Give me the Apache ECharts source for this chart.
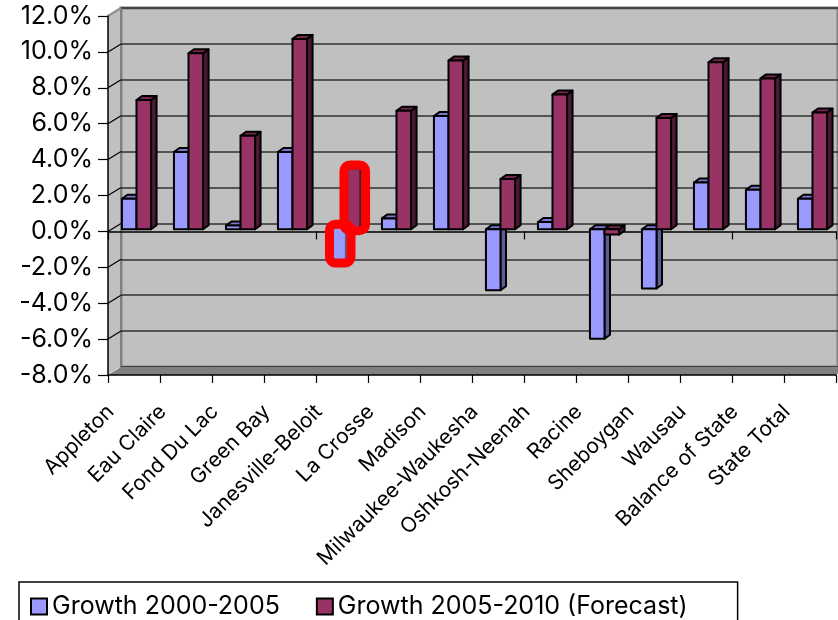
<!DOCTYPE html>
<html>
<head>
<meta charset="utf-8">
<script src="https://cdn.jsdelivr.net/npm/echarts@6/dist/echarts.min.js"></script>
<style>
  html, body { margin: 0; padding: 0; background: #ffffff; }
  #chart { width: 838px; height: 620px; }
</style>
</head>
<body>
<div id="chart"></div>
<script>
// Regional employment growth, Wisconsin
const categories = ['Appleton', 'Eau Claire', 'Fond Du Lac', 'Green Bay', 'Janesville-Beloit', 'La Crosse',
  'Madison', 'Milwaukee-Waukesha', 'Oshkosh-Neenah', 'Racine', 'Sheboygan', 'Wausau',
  'Balance of State', 'State Total'];
const growth2000to2005 = [1.7, 4.3, 0.2, 4.3, -1.8, 0.6, 6.3, -3.4, 0.4, -6.1, -3.3, 2.6, 2.2, 1.7];
const growth2005to2010 = [7.2, 9.8, 5.2, 10.6, 3.3, 6.6, 9.4, 2.8, 7.5, -0.3, 6.2, 9.3, 8.4, 6.5];
const seriesNames = ['Growth 2000-2005', 'Growth 2005-2010 (Forecast)'];
const highlightedCategories = ['Janesville-Beloit'];
const yMin = -8, yMax = 12, yStep = 2;

const FONT = 'Inter, "Liberation Sans", Arial, sans-serif';
const FRONT = { left: 108, top: 16, width: 728, height: 359 };
const WALL = { dx: 13, dy: -8 };        // offset of the back wall from the front plane
const BAR_SHIFT = { dx: 2.5, dy: -2.2 }; // bars sit slightly behind the front plane
const BAR_DEPTH = { dx: 5.5, dy: -4 };   // visible depth of each column

const palette = [
  { front: '#9999ff', top: '#7777cc', side: '#5c5c99' },
  { front: '#993366', top: '#73264d', side: '#4d1a33' }
];

function renderColumn(seriesIdx) {
  const colors = palette[seriesIdx];
  return function (params, api) {
    const i = api.value(0);
    const v = api.value(1);
    const base = api.coord([i, 0]);
    const tip = api.coord([i, v]);
    const band = api.size([1, 0])[0];
    const w = band * 0.28;
    const x1 = base[0] + (seriesIdx === 0 ? -w : 0) + BAR_SHIFT.dx;
    const x2 = x1 + w;
    const yTop = Math.min(base[1], tip[1]) + BAR_SHIFT.dy;
    const yBot = Math.max(base[1], tip[1]) + BAR_SHIFT.dy;
    const dx = BAR_DEPTH.dx, dy = BAR_DEPTH.dy;
    const marked = highlightedCategories.indexOf(categories[i]) >= 0;
    const stroke = marked ? null : '#000000';
    const lw = marked ? 0 : 2;
    const children = [
      { type: 'polygon', shape: { points: [[x2, yTop], [x2 + dx, yTop + dy], [x2 + dx, yBot + dy], [x2, yBot]] },
        style: { fill: colors.side, stroke: stroke, lineWidth: lw, lineJoin: 'round' } },
      { type: 'polygon', shape: { points: [[x1, yTop], [x2, yTop], [x2 + dx, yTop + dy], [x1 + dx, yTop + dy]] },
        style: { fill: colors.top, stroke: stroke, lineWidth: lw, lineJoin: 'round' } },
      { type: 'rect', shape: { x: x1, y: yTop, width: w, height: yBot - yTop },
        style: { fill: colors.front, stroke: stroke, lineWidth: lw, lineJoin: 'round' } }
    ];
    if (marked) {
      // red call-out ring around the column
      children.push({
        type: 'rect', z2: 100,
        shape: { x: x1 - 0.5, y: yTop + dy - 1, width: w + dx + 1.5, height: yBot - yTop - dy + 2.5, r: 6 },
        style: { fill: null, stroke: '#ff0000', lineWidth: 9 }
      });
    }
    return { type: 'group', children: children };
  };
}

const tickValues = [];
for (let v = yMin; v <= yMax; v += yStep) tickValues.push(v);

const chart = echarts.init(document.getElementById('chart'), null, { renderer: 'canvas' });

const option = {
  animation: false,
  backgroundColor: '#ffffff',
  textStyle: { fontFamily: FONT },
  grid: [
    { left: FRONT.left, top: FRONT.top, width: FRONT.width, height: FRONT.height, containLabel: false },
    { left: FRONT.left + WALL.dx, top: FRONT.top + WALL.dy, width: FRONT.width, height: FRONT.height,
      show: true, backgroundColor: '#c0c0c0', borderColor: '#808080', borderWidth: 3, containLabel: false }
  ],
  xAxis: [
    { type: 'category', gridIndex: 0, data: categories, position: 'bottom', z: 2,
      axisLine: { onZero: false, lineStyle: { color: '#000000', width: 1.5 } },
      axisTick: { show: true, length: 8, lineStyle: { color: '#000000', width: 1.2 } },
      axisLabel: { interval: 0, rotate: 45, color: '#000000', fontFamily: FONT, fontSize: 21,
        margin: 10, padding: [0, 33, 0, 0] },
      splitLine: { show: false } },
    { type: 'category', gridIndex: 0, data: categories, position: 'bottom', z: 2,
      axisLine: { onZero: true, onZeroAxisIndex: 0, lineStyle: { color: '#000000', width: 1.5 } },
      axisTick: { show: true, length: 8, lineStyle: { color: '#000000', width: 1.2 } },
      axisLabel: { show: false },
      splitLine: { show: false } },
    { type: 'category', gridIndex: 1, data: categories, show: false }
  ],
  yAxis: [
    { type: 'value', gridIndex: 0, min: yMin, max: yMax, interval: yStep, z: 2,
      axisLine: { show: true, onZero: false, lineStyle: { color: '#000000', width: 1.5 } },
      axisTick: { show: true, length: 10, lineStyle: { color: '#000000', width: 1.2 } },
      axisLabel: { color: '#000000', fontFamily: FONT, fontSize: 25, margin: 15,
        formatter: function (v) { return v.toFixed(1) + '%'; } },
      splitLine: { show: false } },
    { type: 'value', gridIndex: 1, min: yMin, max: yMax, interval: yStep, z: 0,
      axisLine: { show: false }, axisTick: { show: false }, axisLabel: { show: false },
      splitLine: { show: true, lineStyle: { color: '#303030', width: 1.5 } } }
  ],
  legend: {
    data: seriesNames,
    left: 19, top: 582,
    orient: 'horizontal',
    borderColor: '#000000', borderWidth: 1.5, borderRadius: 0,
    padding: [12, 50, 24, 11],
    itemWidth: 16, itemHeight: 16, itemGap: 36,
    icon: 'rect',
    textStyle: { color: '#000000', fontFamily: FONT, fontSize: 25 }
  },
  series: [
    { name: seriesNames[0], type: 'custom', xAxisIndex: 0, yAxisIndex: 0, z: 3, clip: false,
      itemStyle: { color: palette[0].front, borderColor: '#000000', borderWidth: 2 },
      renderItem: renderColumn(0),
      encode: { x: 0, y: 1 },
      data: growth2000to2005.map(function (v, i) { return [i, v]; }) },
    { name: seriesNames[1], type: 'custom', xAxisIndex: 0, yAxisIndex: 0, z: 3, clip: false,
      itemStyle: { color: palette[1].front, borderColor: '#000000', borderWidth: 2 },
      renderItem: renderColumn(1),
      encode: { x: 0, y: 1 },
      data: growth2005to2010.map(function (v, i) { return [i, v]; }) }
  ]
};

chart.setOption(option);

// Side wall, floor and the slanted gridline stubs joining front ticks to the back wall
const L = FRONT.left, R = FRONT.left + FRONT.width;
const yOf = function (v) { return chart.convertToPixel({ yAxisIndex: 0 }, v); };
const yTopPx = yOf(yMax), yBotPx = yOf(yMin);
const graphics = [
  { type: 'polygon', z: 1, silent: true,
    shape: { points: [[L, yTopPx], [L + WALL.dx - 1.5, yTopPx + WALL.dy], [L + WALL.dx - 1.5, yBotPx + WALL.dy], [L, yBotPx]] },
    style: { fill: '#c0c0c0' } },
  { type: 'polygon', z: 1, silent: true,
    shape: { points: [[L, yBotPx], [R, yBotPx], [R + WALL.dx, yBotPx + WALL.dy], [L + WALL.dx, yBotPx + WALL.dy]] },
    style: { fill: '#808080' } }
];
tickValues.forEach(function (v) {
  const y = yOf(v);
  if (v === yMin) return;
  graphics.push({
    type: 'line', z: 1, silent: true,
    shape: { x1: L, y1: y, x2: L + WALL.dx, y2: y + WALL.dy },
    style: { stroke: v === yMax ? '#909090' : '#000000', lineWidth: v === yMax ? 2.5 : 1.2 }
  });
});
chart.setOption({ graphic: graphics });
</script>
</body>
</html>
